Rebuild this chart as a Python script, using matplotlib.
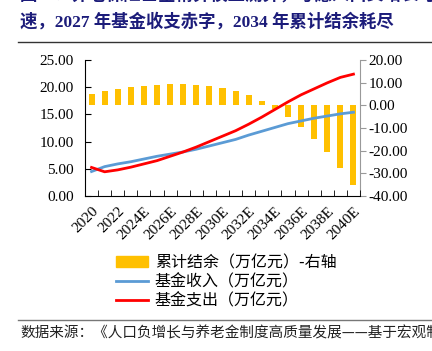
import numpy as np
import matplotlib.pyplot as plt
from matplotlib.patches import Patch
from matplotlib.lines import Line2D

plt.rcParams['font.family'] = ['Liberation Serif', 'Noto Sans CJK SC']

years = ['2020', '2021', '2022', '2023E', '2024E', '2025E', '2026E', '2027E', '2028E', '2029E',
         '2030E', '2031E', '2032E', '2033E', '2034E', '2035E', '2036E', '2037E', '2038E', '2039E', '2040E']
# 累计结余 (右轴)
balance = [5.0, 6.2, 7.1, 7.9, 8.7, 9.0, 9.3, 9.3, 9.1, 8.5, 7.5, 6.2, 4.4, 1.9,
           -1.6, -5.1, -9.6, -14.7, -20.6, -27.5, -35.2]
# 基金收入
income = [4.5, 5.4, 5.9, 6.3, 6.8, 7.3, 7.7, 8.1, 8.6, 9.2, 9.8, 10.4, 11.2, 11.9,
          12.6, 13.3, 13.8, 14.3, 14.7, 15.1, 15.4]
# 基金支出
expense = [5.25, 4.45, 4.8, 5.3, 5.9, 6.5, 7.3, 8.1, 9.0, 10.0, 11.0, 12.0, 13.2, 14.5,
           15.9, 17.3, 18.6, 19.7, 20.8, 21.8, 22.4]

x = np.arange(len(years))

fig = plt.figure(figsize=(4.32, 3.51), dpi=100)
ax = fig.add_axes([85 / 432, 1 - 196 / 351, 275 / 432, 136 / 351])
ax2 = ax.twinx()

ax2.bar(x, balance, width=0.46, color='#FFC000', zorder=1)
ax.plot(x, income, color='#5B9BD5', lw=2.0, zorder=3)
ax.plot(x, expense, color='#FF0000', lw=2.0, zorder=4)
ax.set_zorder(ax2.get_zorder() + 1)
ax.patch.set_visible(False)

ax.set_xlim(-0.5, len(years) - 0.5)
ax.set_ylim(0, 25)
ax.set_yticks(np.arange(0, 26, 5))
ax.set_yticklabels(['%.2f' % v for v in np.arange(0, 26, 5)], fontsize=11)
ax2.set_ylim(-40, 20)
ax2.set_yticks(np.arange(-40, 21, 10))
ax2.set_yticklabels(['%.2f' % v for v in np.arange(-40, 21, 10)], fontsize=11)

ax.set_xticks(x[::2])
ax.set_xticklabels(years[::2], rotation=45, ha='right', rotation_mode='anchor', fontsize=11)
ax.set_xticks(np.arange(-0.5, len(years), 1), minor=True)
ax.tick_params(axis='x', which='major', length=0, pad=6)
ax.tick_params(axis='x', which='minor', direction='in', length=4, color='black')
ax.tick_params(axis='y', direction='in', length=4, pad=8)
ax2.tick_params(axis='y', direction='out', length=4, color='#999999', pad=2)

for a in (ax, ax2):
    a.spines['top'].set_visible(False)
ax.spines['right'].set_visible(False)
ax2.spines['left'].set_visible(False)
ax2.spines['bottom'].set_visible(False)
ax2.spines['right'].set_color('#999999')

handles = [Patch(color='#FFC000'),
           Line2D([0], [0], color='#5B9BD5', lw=2),
           Line2D([0], [0], color='#FF0000', lw=2)]
labels = ['累计结余（万亿元）-右轴', '基金收入（万亿元）', '基金支出（万亿元）']
fig.legend(handles, labels, loc='upper left', bbox_to_anchor=(102 / 432, 1 - 240 / 351),
           frameon=False, handlelength=2.0, labelspacing=0.12,
           handletextpad=0.4, prop={'family': 'Noto Sans CJK SC', 'size': 11.5})

title_color = '#1C1C7A'
fig.text(20 / 432, 1 + 5 / 351, '图32：养老保险基金精算模型测算，考虑人口负增长与老龄化加',
         fontsize=12.5, fontweight='bold', color=title_color, va='center',
         family=['Liberation Serif', 'Noto Sans CJK SC'])
fig.text(20 / 432, 1 - 22 / 351, '速，2027 年基金收支赤字，2034 年累计结余耗尽',
         fontsize=12.5, fontweight='bold', color=title_color, va='center',
         family=['Liberation Serif', 'Noto Sans CJK SC'])
fig.add_artist(Line2D([18 / 432, 1], [1 - 42 / 351] * 2, color='#333333', lw=1.0))
fig.add_artist(Line2D([18 / 432, 1], [1 - 320 / 351] * 2, color='#777777', lw=1.0))
fig.text(20 / 432, 1 - 333 / 351, '数据来源：《人口负增长与养老金制度高质量发展——基于宏观制度',
         fontsize=10.5, color='#222222', va='center', family=['Noto Sans CJK SC'])

fig.savefig('out.png', dpi=100)
